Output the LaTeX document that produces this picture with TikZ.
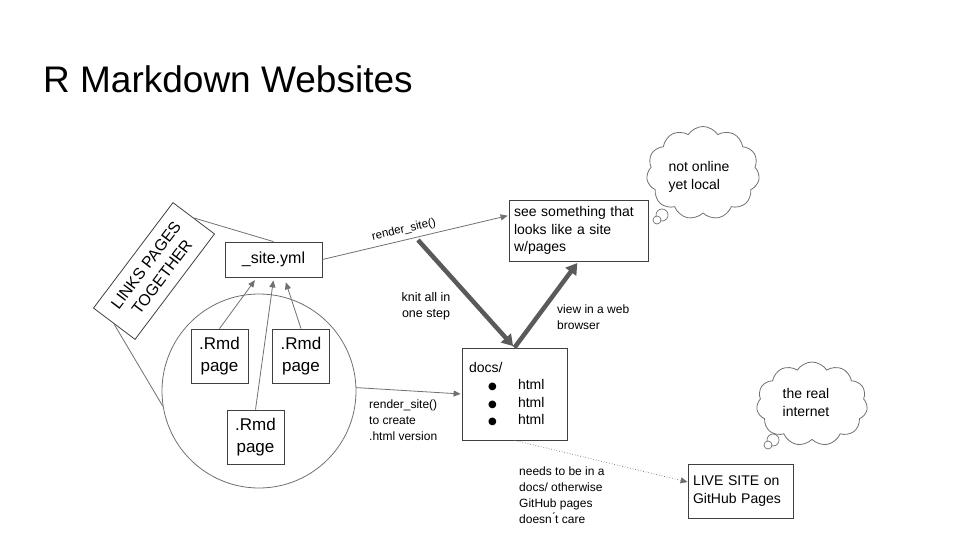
\documentclass[tikz,border=0pt]{standalone}
\usepackage{fontspec}
\setmainfont{Liberation Sans}
\newfontfamily\symfont{DejaVu Sans}
\usetikzlibrary{arrows.meta,shapes.symbols}

\definecolor{boxline}{HTML}{404040}
\definecolor{linkline}{HTML}{707070}
\definecolor{heavy}{HTML}{5A5A5A}

\newcommand{\bul}{{\symfont\fontsize{10}{12}\selectfont ●}}

\tikzset{
  box/.style={draw=boxline, line width=0.8pt, inner sep=4pt, font=\fontsize{17}{22}\selectfont},
  smallbox/.style={draw=boxline, line width=0.8pt, inner sep=5pt, font=\fontsize{14}{17.5}\selectfont, align=left},
  thin/.style={draw=linkline, line width=0.8pt},
  thinarrow/.style={thin, -{Triangle[length=7pt,width=6pt]}, shorten >=1pt},
  heavyarrow/.style={draw=heavy, line width=4.5pt, -{Triangle[length=11pt,width=13pt]}, shorten >=2pt},
  note/.style={font=\fontsize{12}{16}\selectfont, align=left, inner sep=0pt},
  thought/.style={cloud, cloud puffs=11, cloud puff arc=115, draw=linkline, line width=0.8pt, aspect=1.3},
  bubble/.style={draw=linkline, line width=0.7pt, fill=white}
}

\begin{document}
\begin{tikzpicture}[x=1pt, y=-1pt]
\useasboundingbox (0,0) rectangle (960,540);

% title
\node[anchor=base west, inner sep=0pt, font=\fontsize{37}{44}\selectfont] (title) at (43,93) {R Markdown Websites};

% pages and config
\node[circle, draw=linkline, line width=0.8pt, minimum size=194pt, inner sep=0pt] (circ) at (259,391) {};
\node[box, minimum width=97pt, minimum height=35pt, font=\fontsize{16}{20}\selectfont] (site) at (273.5,259.5) {\_site.yml};
\node[box, minimum width=57pt, minimum height=54pt, align=center] (rmdl) at (219.5,356) {.Rmd\\page};
\node[box, minimum width=57pt, minimum height=54pt, align=center] (rmdr) at (301,356) {.Rmd\\page};
\node[box, minimum width=57pt, minimum height=54pt, align=center] (rmdc) at (255.5,437) {.Rmd\\page};

\node[box, rotate=53, minimum width=132pt, minimum height=52pt, align=center, inner sep=2pt, font=\fontsize{16}{20}\selectfont] (ltg) at (154,271) {LINKS PAGES\\TOGETHER};

\draw[thin] (ltg.east) -- (site.north);
\draw[thin] (ltg.west) -- (circ.189);

\draw[thinarrow] (rmdl.north) -- ([xshift=-18pt,yshift=-2pt]site.south);
\draw[thinarrow] (rmdc.north) -- ([yshift=-2pt]site.south);
\draw[thinarrow] (rmdr.north) -- ([xshift=12pt,yshift=-4pt]site.south);

% rendered output
\node[smallbox, minimum width=139pt, minimum height=61pt, text width=129pt] (see) at (578.5,230.5) {see something that\\looks like a site\\w/pages};
\node[smallbox, minimum width=105pt, minimum height=92pt, text width=91pt, inner xsep=7pt] (docs) at (514.5,394) {docs/\\\hspace*{19pt}\makebox[30pt][l]{\bul}html\\\hspace*{19pt}\makebox[30pt][l]{\bul}html\\\hspace*{19pt}\makebox[30pt][l]{\bul}html};
\node[smallbox, minimum width=105pt, minimum height=54pt, text width=95pt] (live) at (740.5,491) {LIVE SITE on\\GitHub Pages};

\draw[thinarrow] (site.east) -- node[pos=0.45, above=1pt, sloped, font=\fontsize{11.5}{14}\selectfont] (lblrender) {render\_site()} ([yshift=15pt]see.west);
\draw[thinarrow] (circ.2) -- (docs.west);

\coordinate (knitstart) at (418,240);
\draw[heavyarrow] (knitstart) -- (docs.north);
\draw[heavyarrow] (docs.north) -- (see.south);

\draw[draw=linkline, line width=0.7pt, dotted, -{Triangle[length=7pt,width=6pt]}] (docs.south) -- ([yshift=9pt]live.west);

% labels
\node[note, align=center, font=\fontsize{12.5}{16}\selectfont] (lblknit) at (426,306) {knit all in\\one step};
\node[note, anchor=north west] (lblview) at (557,305) {view in a web\\browser};
\node[note, anchor=north west] (lblcreate) at (369,400) {render\_site()\\to create\\.html version};
\node[note, anchor=north west] (lbldocs) at (519,467) {needs to be in a\\docs/ otherwise\\GitHub pages\\doesn\'{}t care};

% thought clouds
\node[thought, minimum width=113pt, minimum height=93pt] (cloudlocal) at (703,173) {};
\node[font=\fontsize{14}{18}\selectfont, align=left, inner sep=0pt] (txtlocal) at (699,177) {not online\\yet local};
\draw[bubble] (662,215) circle (6pt);
\draw[bubble] (657,220) circle (4pt);

\node[thought, minimum width=111pt, minimum height=84pt] (cloudnet) at (812,404) {};
\node[font=\fontsize{14}{18}\selectfont, align=center, inner sep=0pt] (txtnet) at (806,402) {the real\\internet};
\draw[bubble] (773,440) circle (6pt);
\draw[bubble] (768,445) circle (4pt);
\end{tikzpicture}
\end{document}
